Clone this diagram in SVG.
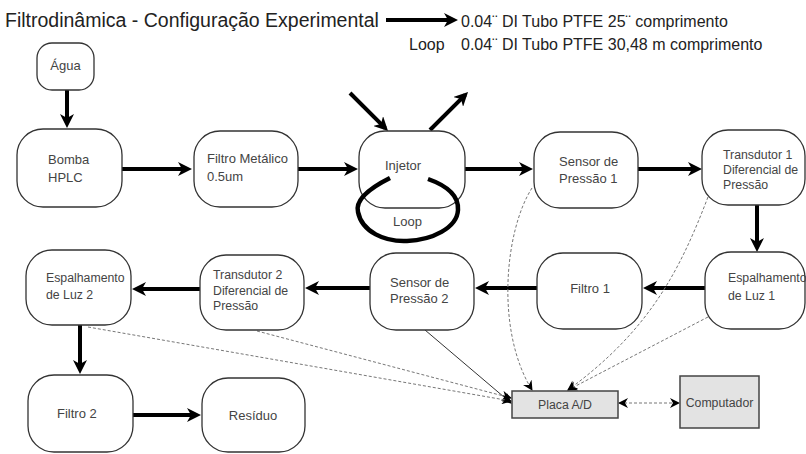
<svg xmlns="http://www.w3.org/2000/svg" width="806" height="454" viewBox="0 0 806 454">
<defs>
<style>
.node rect{fill:#fff;stroke:#333;stroke-width:1.3}
.gray rect{fill:#e3e3e3;stroke:#444;stroke-width:1.5}
text{font-family:"Liberation Sans",Arial,sans-serif;fill:#444}
.t13{font-size:13px}
.t12{font-size:12.3px}
.title{font-size:19.5px;fill:#222}
.hdr{font-size:16px;fill:#222}
.thick{stroke:#000;stroke-width:4;fill:none;marker-end:url(#ah)}
.dash{stroke:#777;stroke-width:1;stroke-dasharray:3 2;fill:none;marker-end:url(#sa)}
.thin{stroke:#333;stroke-width:1;fill:none;marker-end:url(#sa)}
.loop{stroke:#000;stroke-width:4.5;fill:none}
</style>
<marker id="ah" viewBox="0 0 14 14" refX="10" refY="7" markerWidth="14" markerHeight="14" markerUnits="userSpaceOnUse" orient="auto"><path d="M0,0 L14,7 L0,14 L4,7 z" fill="#000"/></marker>
<marker id="sa" viewBox="0 0 10 10" refX="9" refY="5" markerWidth="11" markerHeight="10" markerUnits="userSpaceOnUse" orient="auto-start-reverse"><path d="M0,0 L10,5 L0,10 L3,5 z" fill="#000"/></marker>
</defs>
<rect width="806" height="454" fill="#fff"/>
<g id="header">
<text class="title" x="5" y="27">Filtrodinâmica - Configuração Experimental</text>
<text class="hdr" x="461" y="27">0.04¨ DI Tubo PTFE 25¨ comprimento</text>
<text class="hdr" x="409" y="50">Loop</text>
<text class="hdr" x="461" y="50">0.04¨ DI Tubo PTFE 30,48 m comprimento</text>
</g>
<g id="connectors">
<line class="thick" x1="386" y1="20" x2="454" y2="20"/>
<line class="thick" x1="67" y1="90" x2="67" y2="124"/>
<line class="thick" x1="122" y1="169" x2="188" y2="169"/>
<line class="thick" x1="298" y1="169" x2="354" y2="169"/>
<line class="thick" x1="350" y1="93" x2="385.2" y2="128.2"/>
<line class="thick" x1="430" y1="130" x2="465.2" y2="94.8"/>
<line class="thick" x1="465" y1="169" x2="529" y2="169"/>
<line class="thick" x1="638" y1="169" x2="698" y2="169"/>
<line class="thick" x1="757" y1="205" x2="757" y2="248"/>
<line class="thick" x1="705" y1="288" x2="647" y2="288"/>
<line class="thick" x1="537" y1="288" x2="479" y2="288"/>
<line class="thick" x1="370" y1="288" x2="309" y2="288"/>
<line class="thick" x1="200" y1="289" x2="136" y2="289"/>
<line class="thick" x1="80" y1="325" x2="80" y2="370"/>
<line class="thick" x1="133" y1="415" x2="197" y2="415"/>
<path class="dash" d="M532 188 C505 230,495 330,532 390"/>
<path class="dash" d="M708 197 C680 270,650 330,568 390"/>
<path class="dash" d="M708 317 L568 390"/>
<path class="thin" d="M425 330 L511 403"/>
<path class="dash" d="M257 331 L511 398"/>
<path class="dash" d="M88 327 L511 401"/>
<path class="dash" style="marker-start:url(#sa)" d="M619 403 L679 403"/>
</g>
<g id="agua" class="node"><rect x="37" y="43" width="57" height="47" rx="15"/><text class="t13" x="65.5" y="70" text-anchor="middle">Água</text></g>
<g id="bomba" class="node"><rect x="17" y="129" width="105" height="78" rx="26"/><text class="t13" x="48" y="164">Bomba</text><text class="t13" x="48" y="182">HPLC</text></g>
<g id="filtro-metalico" class="node"><rect x="194" y="131" width="104" height="76" rx="26"/><text class="t13" x="207" y="163">Filtro Metálico</text><text class="t13" x="207" y="181">0.5um</text></g>
<g id="injetor" class="node"><rect x="359" y="131" width="106" height="77" rx="26"/><text class="t13" x="385" y="170">Injetor</text>
<path class="loop" d="M390 178 C370 188,355 200,358 212 C362 232,385 242,407 241 C432 240,457 228,458 210 C459 195,445 185,428 179"/>
<text class="t13" x="393" y="226">Loop</text></g>
<g id="sensor1" class="node"><rect x="534" y="132" width="104" height="76" rx="26"/><text class="t13" x="559" y="166">Sensor de</text><text class="t13" x="559" y="183">Pressão 1</text></g>
<g id="transdutor1" class="node"><rect x="702" y="130" width="103" height="75" rx="26"/><text class="t12" x="723" y="159">Transdutor 1</text><text class="t12" x="723" y="174">Diferencial de</text><text class="t12" x="723" y="189">Pressão</text></g>
<g id="espalhamento1" class="node"><rect x="705" y="252" width="100" height="77" rx="26"/><text class="t12" x="728" y="282">Espalhamento</text><text class="t12" x="728" y="300">de Luz 1</text></g>
<g id="filtro1" class="node"><rect x="537" y="253" width="105" height="76" rx="26"/><text class="t13" x="590" y="293" text-anchor="middle">Filtro 1</text></g>
<g id="sensor2" class="node"><rect x="370" y="253" width="104" height="77" rx="26"/><text class="t13" x="390" y="287">Sensor de</text><text class="t13" x="390" y="303">Pressão 2</text></g>
<g id="transdutor2" class="node"><rect x="200" y="255" width="104" height="75" rx="26"/><text class="t12" x="213" y="279">Transdutor 2</text><text class="t12" x="213" y="295">Diferencial de</text><text class="t12" x="213" y="310">Pressão</text></g>
<g id="espalhamento2" class="node"><rect x="26" y="250" width="105" height="75" rx="26"/><text class="t12" x="46" y="282">Espalhamento</text><text class="t12" x="46" y="299">de Luz 2</text></g>
<g id="filtro2" class="node"><rect x="28" y="375" width="105" height="77" rx="26"/><text class="t13" x="57" y="418">Filtro 2</text></g>
<g id="residuo" class="node"><rect x="202" y="378" width="103" height="74" rx="26"/><text class="t13" x="253" y="420" text-anchor="middle">Resíduo</text></g>
<g id="placa" class="gray"><rect x="512" y="391" width="106" height="27"/><text class="t12" x="565" y="409" text-anchor="middle">Placa A/D</text></g>
<g id="computador" class="gray"><rect x="680" y="376" width="79" height="52"/><text class="t12" x="719.5" y="407" text-anchor="middle">Computador</text></g>
</svg>
